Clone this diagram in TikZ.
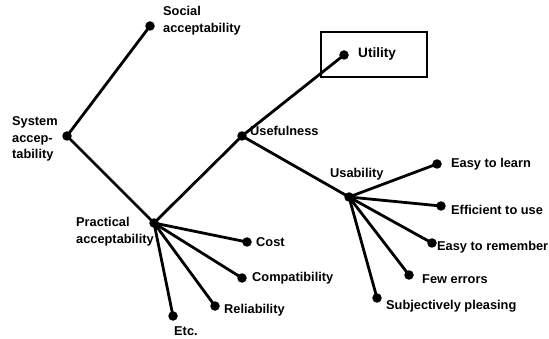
\documentclass[tikz,border=0pt]{standalone}
\usepackage{fontspec}
\setmainfont{Liberation Sans}
\begin{document}
\begin{tikzpicture}[x=1pt,y=-1pt,
  dot/.style={circle,fill=black,minimum size=9.5pt,inner sep=0pt},
  lbl/.style={font=\bfseries\fontsize{12.8}{16.7}\selectfont,inner sep=0pt,align=left},
  edge/.style={line width=2.8pt,line cap=round}]
\useasboundingbox (0,0) rectangle (549,339);
% dots
\node[dot] (soc) at (150,26) {};
\node[dot] (sys) at (67,136) {};
\node[dot] (pra) at (154,223) {};
\node[dot] (use) at (242,136) {};
\node[dot] (uti) at (344,55) {};
\node[dot] (usa) at (349,197) {};
\node[dot] (eal) at (437,164) {};
\node[dot] (eff) at (441,206) {};
\node[dot] (ear) at (432,243) {};
\node[dot] (few) at (409,275) {};
\node[dot] (sub) at (377,298) {};
\node[dot] (cos) at (247,242) {};
\node[dot] (com) at (242,278) {};
\node[dot] (rel) at (215,306) {};
\node[dot] (etc) at (173,316) {};
% labels
\node[lbl,anchor=west] (lsoc) at (163,21) {Social\\acceptability};
\node[lbl,anchor=west] (lsys) at (12,139) {System\\accep-\\tability};
\node[lbl,anchor=west] (lpra) at (76,231.5) {Practical\\acceptability};
\node[lbl,anchor=west] (luse) at (250,131) {Usefulness};
\node[lbl,anchor=west,font=\bfseries\fontsize{13.6}{16}\selectfont] (luti) at (358,54) {Utility};
\node[lbl,anchor=west] (lusa) at (330,174) {Usability};
\node[lbl,anchor=west] (leal) at (451,164) {Easy to learn};
\node[lbl,anchor=west] (leff) at (451,210) {Efficient to use};
\node[lbl,anchor=west] (lear) at (437,247) {Easy to remember};
\node[lbl,anchor=west] (lfew) at (422,279) {Few errors};
\node[lbl,anchor=west] (lsub) at (386,306) {Subjectively pleasing};
\node[lbl,anchor=west] (lcos) at (256,242) {Cost};
\node[lbl,anchor=west] (lcom) at (252,278) {Compatibility};
\node[lbl,anchor=west] (lrel) at (224,310) {Reliability};
\node[lbl,anchor=west] (letc) at (174,331.5) {Etc.};
% box
\draw[line width=2pt] (321,32) rectangle (427,77);
% edges
\draw[edge] (soc.center) -- (sys.center);
\draw[edge] (sys.center) -- (pra.center);
\draw[edge] (pra.center) -- (use.center);
\draw[edge] (use.center) -- (uti.center);
\draw[edge] (use.center) -- (usa.center);
\foreach \t in {eal,eff,ear,few,sub} \draw[edge] (usa.center) -- (\t.center);
\foreach \t in {cos,com,rel,etc} \draw[edge] (pra.center) -- (\t.center);
\end{tikzpicture}
\end{document}
